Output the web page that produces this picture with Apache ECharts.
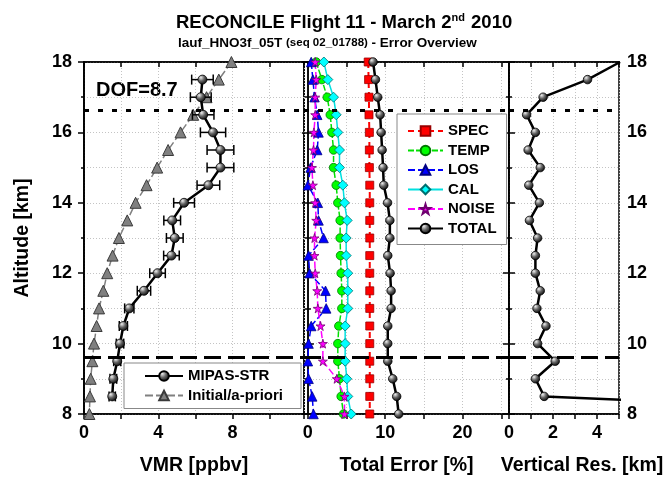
<!DOCTYPE html>
<html><head><meta charset="utf-8">
<script src="https://cdn.jsdelivr.net/npm/echarts@6/dist/echarts.min.js"></script>
<style>html,body{margin:0;padding:0;background:#fff}#c{width:671px;height:481px}</style>
</head><body><div id="c"></div>
<script>
// ---------- data ----------
const altFull = [18,17.5,17,16.5,16,15.5,15,14.5,14,13.5,13,12.5,12,11.5,11,10.5,10,9.5,9,8.5,8];
const mipasAlt = [17.5,17,16.5,16,15.5,15,14.5,14,13.5,13,12.5,12,11.5,11,10.5,10,9.5,9,8.5];
const mipasVmr = [6.38,6.29,6.42,6.95,7.35,7.35,6.70,5.39,4.75,4.89,4.71,3.96,3.23,2.44,2.12,1.94,1.79,1.58,1.52];
const mipasErr = [0.58,0.56,0.58,0.68,0.72,0.72,0.61,0.56,0.45,0.45,0.42,0.42,0.36,0.25,0.22,0.20,0.19,0.18,0.17];
const aprioriVmr = [7.94,7.26,6.60,5.88,5.20,4.53,3.94,3.37,2.78,2.33,1.88,1.54,1.25,1.04,0.81,0.68,0.54,0.45,0.36,0.32,0.29];
const errSPEC  = [7.8,7.85,7.9,7.9,7.95,7.95,7.95,8.0,8.0,8.0,8.0,8.0,8.0,8.0,8.0,8.0,8.0,8.0,8.0,8.0,8.0];
const errTEMP  = [1.08,1.81,2.50,2.89,3.10,3.32,3.32,3.66,3.87,4.17,4.17,4.22,4.30,4.39,4.39,4.00,3.87,3.87,4.09,4.30,4.60];
const errLOS   = [0.43,0.65,0.86,1.21,1.38,1.21,0.35,0.00,1.29,1.38,2.03,0.09,0.22,2.28,2.37,0.43,0.09,0.00,0.09,0.56,0.73];
const errCAL   = [2.07,2.58,3.32,3.66,3.87,4.09,4.09,4.52,4.73,5.08,4.95,4.95,5.16,5.16,5.16,4.82,4.82,4.82,5.03,5.16,5.60];
const errNOISE = [0.95,1.08,0.95,0.95,0.78,0.73,0.52,0.65,0.95,1.08,0.86,0.86,0.95,1.21,1.29,1.64,1.94,1.94,3.74,4.73,4.73];
const errTOTAL = [8.43,8.74,9.03,9.34,9.47,9.60,9.72,9.81,10.3,10.6,10.6,10.33,10.63,10.76,10.76,10.33,10.33,10.33,10.97,11.48,11.74];
const vertRes  = [5.05,3.57,1.55,0.80,1.20,0.87,1.42,0.90,1.38,0.93,1.30,1.20,1.20,1.42,1.27,1.68,1.30,2.10,1.20,1.60,20];
const dofText = 'DOF=8.7';
const dofAlt = 16.62;      // dotted line
const lowAlt = 9.6;        // dashed line

// ---------- styling helpers ----------
const FONT = '"Liberation Sans", Arial, sans-serif';
const sphere = () => new echarts.graphic.RadialGradient(0.35, 0.3, 0.75, [
  {offset: 0, color: '#eeeeee'}, {offset: 0.45, color: '#666666'}, {offset: 1, color: '#000000'}]);
const pairs = (xs, ys) => xs.map((v, i) => [v, ys[i]]);
const splitLine = {show: true, lineStyle: {color: '#c4c4c4', type: [1, 2], width: 1}};
const labelStyle = {color: '#000', fontFamily: FONT, fontWeight: 'bold', fontSize: 18};
const nameStyle = {color: '#000', fontFamily: FONT, fontWeight: 'bold', fontSize: 19.5};
const axLine = {show: true, lineStyle: {color: '#000', width: 1.5}};
const STAR = 'path://M50,0 L61,35 L98,35 L68,57 L79,91 L50,70 L21,91 L32,57 L2,35 L39,35 Z';
const DOT = [5, 9], DASH = [17, 7];

function bottomX(grid, min, max, interval, every, name, extra) {
  const ax = {
    type: 'value', gridIndex: grid, position: 'bottom', min, max,
    axisLine: axLine,
    axisTick: {show: true, inside: false, length: 5, lineStyle: {color: '#000', width: 1.5}},
    axisLabel: Object.assign({margin: 10, formatter: v => (Math.abs(v % every) < 1e-9 ? String(v) : '')}, labelStyle),
    splitLine,
    name, nameLocation: 'middle', nameGap: 42, nameTextStyle: Object.assign({}, nameStyle, extra || {})
  };
  if (interval) ax.interval = interval;
  return ax;
}
function topX(grid, min, max, interval) {
  const ax = {type: 'value', gridIndex: grid, position: 'top', min, max,
    axisLine: axLine, axisTick: {show: true, inside: true, length: 5, lineStyle: {color: '#000', width: 1.5}},
    axisLabel: {show: false}, splitLine: {show: false}};
  if (interval) ax.interval = interval;
  return ax;
}
function yAx(grid, pos, labels, inside) {
  return {type: 'value', gridIndex: grid, position: pos, min: 8, max: 18, interval: 2,
    axisLine: axLine,
    axisTick: {show: true, inside: inside, length: 6, lineStyle: {color: '#000', width: 1.5}},
    minorTick: {show: true, splitNumber: 2, length: 3, lineStyle: {color: '#000', width: 1.5}},
    axisLabel: Object.assign({show: labels, margin: pos === 'left' ? 12 : 8}, labelStyle),
    splitLine: pos === 'left' ? splitLine : {show: false},
    minorSplitLine: pos === 'left' ? splitLine : {show: false}};
}
function hLine(alt, dash) {
  return {silent: true, symbol: 'none', label: {show: false},
    lineStyle: {color: '#000', width: 3, type: dash}, data: [{yAxis: alt}]};
}

const chart = echarts.init(document.getElementById('c'), null, {renderer: 'canvas'});
const option = {
  animation: false,
  backgroundColor: '#fff',
  title: [
    {left: 176, top: 12, padding: 0,
     text: '{a|RECONCILE Flight 11 - March 2}{s|nd}{a| 2010}',
     textStyle: {rich: {
       a: {fontFamily: FONT, fontWeight: 'bold', fontSize: 18.5, color: '#000', lineHeight: 22},
       s: {fontFamily: FONT, fontWeight: 'bold', fontSize: 11, color: '#000', lineHeight: 22, verticalAlign: 'top', padding: [0, 1, 0, 0]}}}},
    {left: 178, top: 35, padding: 0,
     text: '{b|lauf_HNO3f_05T }{c|(seq 02_01788)}{b| - Error Overview}',
     textStyle: {rich: {
       b: {fontFamily: FONT, fontWeight: 'bold', fontSize: 13.5, color: '#000', lineHeight: 16},
       c: {fontFamily: FONT, fontWeight: 'bold', fontSize: 11.5, color: '#000', lineHeight: 16}}}}
  ],
  graphic: [{type: 'text', left: 96, top: 80,
    style: {text: dofText, font: 'bold 20px ' + FONT, fill: '#000'}}],
  legend: [
    {orient: 'vertical', left: 124, top: 363, padding: [5, 18, 5, 20], itemGap: 3.5,
     itemWidth: 38, itemHeight: 12, borderColor: '#888', borderWidth: 1, backgroundColor: '#fff',
     textStyle: {color: '#000', fontFamily: FONT, fontWeight: 'bold', fontSize: 15, lineHeight: 16},
     data: ['MIPAS-STR', 'Initial/a-priori']},
    {orient: 'vertical', left: 397, top: 114, padding: [9, 10, 8, 10], itemGap: 3.5,
     itemWidth: 35, itemHeight: 12, borderColor: '#888', borderWidth: 1, backgroundColor: '#fff',
     textStyle: {color: '#000', fontFamily: FONT, fontWeight: 'bold', fontSize: 15, lineHeight: 16},
     data: ['SPEC', 'TEMP', 'LOS', 'CAL', 'NOISE', 'TOTAL']}
  ],
  grid: [
    {left: 84, right: 367, top: 62, bottom: 66, show: true, borderColor: '#000', borderWidth: 1.5},
    {left: 304, right: 162, top: 62, bottom: 66, show: true, borderColor: '#000', borderWidth: 1.5},
    {left: 509, right: 52, top: 62, bottom: 66, show: true, borderColor: '#000', borderWidth: 1.5}
  ],
  xAxis: [
    bottomX(0, 0, 11.85, 2, 4, 'VMR [ppbv]'),
    bottomX(1, -0.5, 26, null, 10, 'Total Error [%]'),
    bottomX(2, 0, 5, 1, 2, 'Vertical Res. [km]', {padding: [0, 0, 0, 36]}),
    topX(0, 0, 11.85, 2), topX(1, -0.5, 26, null), topX(2, 0, 5, 1)
  ],
  yAxis: [
    Object.assign(yAx(0, 'left', true, false), {name: 'Altitude [km]', nameLocation: 'middle', nameGap: 51, nameTextStyle: nameStyle}),
    yAx(1, 'left', false, true),
    yAx(2, 'left', false, true),
    yAx(0, 'right', false, true),
    yAx(1, 'right', false, true),
    yAx(2, 'right', true, true)
  ],
  series: [
    // left panel
    {name: 'Initial/a-priori', type: 'line', xAxisIndex: 0, yAxisIndex: 0, data: pairs(aprioriVmr, altFull),
     symbol: 'triangle', symbolSize: 11, z: 2,
     lineStyle: {color: '#808080', width: 1.5, type: [8, 3]},
     itemStyle: {color: '#808080', borderColor: '#3a3a3a', borderWidth: 1},
     markLine: hLine(dofAlt, DOT)},
    {type: 'custom', xAxisIndex: 0, yAxisIndex: 0, z: 3, silent: true,
     data: mipasVmr.map((v, i) => [v - mipasErr[i], v + mipasErr[i], mipasAlt[i]]),
     encode: {x: [0, 1], y: 2},
     renderItem: (params, api) => {
       const a = api.coord([api.value(0), api.value(2)]);
       const b = api.coord([api.value(1), api.value(2)]);
       const h = 5, st = {stroke: '#000', lineWidth: 1.5};
       return {type: 'group', children: [
         {type: 'line', shape: {x1: a[0], y1: a[1], x2: b[0], y2: b[1]}, style: st},
         {type: 'line', shape: {x1: a[0], y1: a[1] - h, x2: a[0], y2: a[1] + h}, style: st},
         {type: 'line', shape: {x1: b[0], y1: b[1] - h, x2: b[0], y2: b[1] + h}, style: st}]};
     }},
    {name: 'MIPAS-STR', type: 'line', xAxisIndex: 0, yAxisIndex: 0, data: pairs(mipasVmr, mipasAlt),
     symbol: 'circle', symbolSize: 9, z: 4,
     lineStyle: {color: '#000', width: 2.5}, itemStyle: {color: sphere(), borderColor: '#000', borderWidth: 0.8},
     markLine: hLine(lowAlt, DASH)},
    // middle panel
    {name: 'SPEC', type: 'line', xAxisIndex: 1, yAxisIndex: 1, data: pairs(errSPEC, altFull),
     symbol: 'rect', symbolSize: 8,
     lineStyle: {color: '#ff0000', width: 2, type: [6, 4]},
     itemStyle: {color: '#ff0000', borderColor: '#990000', borderWidth: 0.8},
     markLine: hLine(dofAlt, DOT)},
    {name: 'TEMP', type: 'line', xAxisIndex: 1, yAxisIndex: 1, data: pairs(errTEMP, altFull),
     symbol: 'circle', symbolSize: 8.5,
     lineStyle: {color: '#00e000', width: 1.5, type: [6, 2]},
     itemStyle: {color: '#00ff00', borderColor: '#007700', borderWidth: 0.8},
     markLine: hLine(lowAlt, DASH)},
    {name: 'LOS', type: 'line', xAxisIndex: 1, yAxisIndex: 1, data: pairs(errLOS, altFull),
     symbol: 'triangle', symbolSize: 9.5,
     lineStyle: {color: '#0000ff', width: 1.5, type: [7, 3]},
     itemStyle: {color: '#0000ff', borderColor: '#000080', borderWidth: 0.8}},
    {name: 'CAL', type: 'line', xAxisIndex: 1, yAxisIndex: 1, data: pairs(errCAL, altFull),
     symbol: 'diamond', symbolSize: 10,
     lineStyle: {color: '#00e0e0', width: 1.5},
     itemStyle: {color: '#00ffff', borderColor: '#006e6e', borderWidth: 0.8}},
    {name: 'NOISE', type: 'line', xAxisIndex: 1, yAxisIndex: 1, data: pairs(errNOISE, altFull),
     symbol: STAR, symbolSize: 9,
     lineStyle: {color: '#ff00ff', width: 1.5, type: [7, 3]},
     itemStyle: {color: '#ff00ff', borderColor: '#700070', borderWidth: 0.8}},
    {name: 'TOTAL', type: 'line', xAxisIndex: 1, yAxisIndex: 1, data: pairs(errTOTAL, altFull),
     symbol: 'circle', symbolSize: 8.5,
     lineStyle: {color: '#000', width: 2.5},
     itemStyle: {color: sphere(), borderColor: '#000', borderWidth: 0.8}},
    // right panel
    {name: 'Vertical resolution', type: 'line', xAxisIndex: 2, yAxisIndex: 2, data: pairs(vertRes, altFull),
     symbol: 'circle', symbolSize: 8.5, clip: true,
     lineStyle: {color: '#000', width: 2.5},
     itemStyle: {color: sphere(), borderColor: '#000', borderWidth: 0.8},
     markLine: hLine(dofAlt, DOT)},
    {type: 'line', xAxisIndex: 2, yAxisIndex: 2, data: [], silent: true,
     markLine: hLine(lowAlt, DASH)}
  ]
};
chart.setOption(option);
</script>
</body></html>
